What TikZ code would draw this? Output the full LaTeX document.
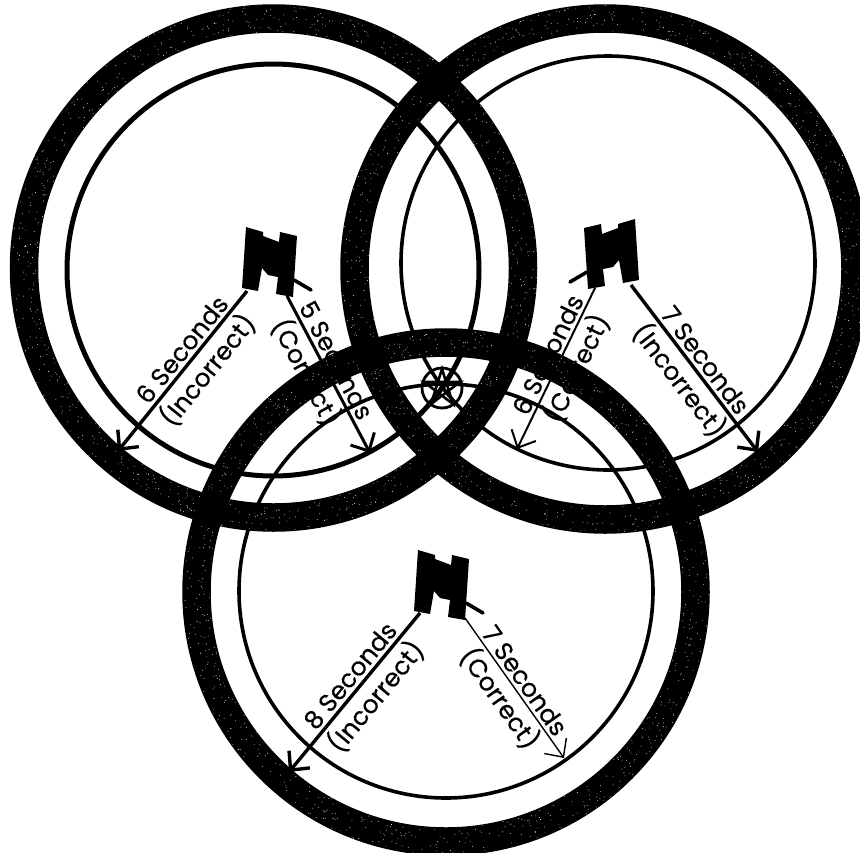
\documentclass[tikz,border=0pt]{standalone}
\usepackage{fontspec}
\setmainfont[FakeBold=0.5]{Poppins}
\usetikzlibrary{arrows.meta}
\tikzset{
  x=1pt,y=-1pt,
  ring/.style={draw=black,line width=28.5pt},
  innerring/.style={draw=black,line width=#1},
  arrowline/.style={draw=black,line width=#1,-{Straight Barb[length=14pt,width=27pt,line width=#1]}},
  lab/.style={font=\fontsize{25}{27}\selectfont,sloped,inner sep=3pt},
  bino/.pic={
    \fill[black] (-24,-33)--(-7,-28)--(-7,-24)--(9,-18)--(10,-28)--(27,-24)--(23,37)--(6,34)--(8,17)--(-2,15)--(-8,8)--(-12,31)--(-28,28)--cycle;
    \draw[black,line width=3.6pt,line cap=round] (24,20)--(41,30);
  }
}
\newcommand{\specks}[4]{%
  \foreach \i in {1,...,#4}{%
    \pgfmathsetmacro\ang{rnd*360}%
    \pgfmathsetmacro\rr{#3+(rnd-.5)*27}%
    \fill[white] ([shift={(#1,#2)}]\ang:\rr) circle (.42);
  }%
}
\begin{document}
\begin{tikzpicture}
\useasboundingbox (0,0) rectangle (860,852);
\pgfmathsetseed{11}
% binoculars
\pic at (270,260) {bino};
\pic[xscale=-1] at (611,252) {bino};
\pic at (442,583) {bino};
% connector ends
\coordinate (a1s) at (247,291);
\coordinate (a1e) at (118,451);
\coordinate (a2s) at (287,296);
\coordinate (a2e) at (370,453);
\coordinate (b1s) at (595,288);
\coordinate (b1e) at (517,449);
\coordinate (b2s) at (631,285);
\coordinate (b2e) at (758,452);
\coordinate (c1s) at (420,613);
\coordinate (c1e) at (289,772);
\coordinate (c2s) at (465,618);
\coordinate (c2e) at (564,758);
% thin circles
\draw[innerring=5pt] (273,270) circle (206);
\draw[innerring=3.6pt] (608,263) circle (207);
\draw[innerring=3.6pt] (446,591) circle (207);
% arrows with labels
\draw[arrowline=3.4pt] (a1s) -- node[lab,above,pos=.42] (t1) {6 Seconds} node[lab,below,pos=.42] (t2) {(Incorrect)} (a1e);
\draw[arrowline=3pt] (a2s) -- node[lab,above,pos=.45] (t3) {5 Seconds} node[lab,below,pos=.43] (t4) {(Correct)} (a2e);
\draw[arrowline=2pt] (b1s) -- node[lab,above,pos=.45] (t5) {6 Seconds} node[lab,below,pos=.45] (t6) {(Correct)} (b1e);
\draw[arrowline=3.4pt] (b2s) -- node[lab,above,pos=.5] (t7) {7 Seconds} node[lab,below,pos=.5] (t8) {(Incorrect)} (b2e);
\draw[arrowline=3.4pt] (c1s) -- node[lab,above,pos=.45] (t9) {8 Seconds} node[lab,below,pos=.45] (t10) {(Incorrect)} (c1e);
\draw[arrowline=1.4pt] (c2s) -- node[lab,above,pos=.5] (t11) {7 Seconds} node[lab,below,pos=.5] (t12) {(Correct)} (c2e);
% thick rings
\draw[ring] (273.5,268) circle (249.5);
\draw[ring] (605,269) circle (250.5);
\draw[ring] (446,592) circle (249.5);
% speckle
\specks{273.5}{268}{249.5}{800}
\specks{605}{269}{250.5}{800}
\specks{446}{592}{249.5}{800}
% solid overlaps of the rings
\begin{scope}[even odd rule]
  \clip (273.5,268) circle (264) (273.5,268) circle (235);
  \draw[ring] (605,269) circle (250.5);
  \draw[ring] (446,592) circle (249.5);
\end{scope}
\begin{scope}[even odd rule]
  \clip (605,269) circle (265) (605,269) circle (236);
  \draw[ring] (446,592) circle (249.5);
\end{scope}
% star
\draw[black,line width=2.8pt] (442,388) circle (20);
\draw[black,line width=2.6pt,line join=miter] (442,369) -- (453,404) -- (424,382) -- (460,382) -- (431,404) -- cycle;
\end{tikzpicture}
\end{document}
